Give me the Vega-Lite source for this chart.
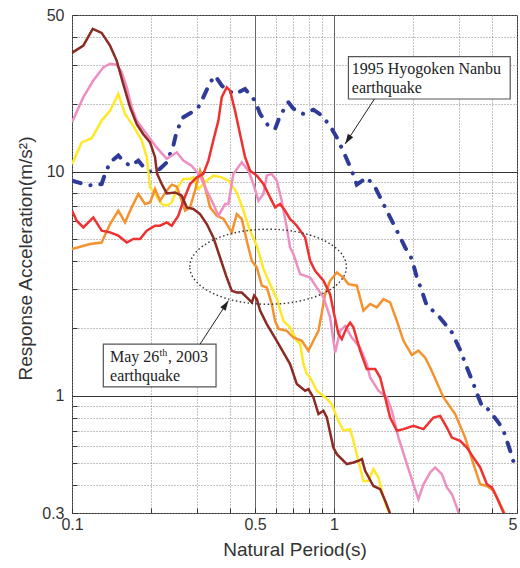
{
  "$schema": "https://vega.github.io/schema/vega-lite/v6.json",
  "width": 445,
  "height": 498,
  "autosize": "none",
  "padding": {"left": 72, "top": 15, "right": 3, "bottom": 55},
  "background": "white",
  "config": {
    "view": {"stroke": "#333", "strokeWidth": 1},
    "axis": {
      "labelFont": "Liberation Sans",
      "titleFont": "Liberation Sans",
      "labelFontSize": 16,
      "titleFontSize": 19,
      "titleFontWeight": "normal",
      "labelColor": "#333",
      "titleColor": "#333",
      "ticks": true,
      "tickSize": -5,
      "tickColor": "#333",
      "domain": false,
      "labelOverlap": false,
      "labelFlush": false,
      "gridWidth": 1
    }
  },
  "datasets": {
    "curves": [
      {"s":"Y","x":0.1,"y":10.8},{"s":"Y","x":0.1089,"y":13.5},{"s":"Y","x":0.1189,"y":14.1},{"s":"Y","x":0.1298,"y":16.9},{"s":"Y","x":0.1397,"y":18.7},{"s":"Y","x":0.1503,"y":22.2},{"s":"Y","x":0.1594,"y":18.1},{"s":"Y","x":0.1714,"y":16.0},{"s":"Y","x":0.1846,"y":13.8},{"s":"Y","x":0.1929,"y":11.6},{"s":"Y","x":0.1986,"y":8.51},{"s":"Y","x":0.2075,"y":7.95},{"s":"Y","x":0.2201,"y":7.17},{"s":"Y","x":0.23,"y":7.05},{"s":"Y","x":0.2403,"y":7.29},{"s":"Y","x":0.2512,"y":8.37},{"s":"Y","x":0.2662,"y":9.28},{"s":"Y","x":0.2823,"y":9.28},{"s":"Y","x":0.2906,"y":9.43},{"s":"Y","x":0.3038,"y":8.37},{"s":"Y","x":0.327,"y":9.12},{"s":"Y","x":0.3465,"y":9.6},{"s":"Y","x":0.3731,"y":9.43},{"s":"Y","x":0.3954,"y":9.12},{"s":"Y","x":0.4257,"y":8.08},{"s":"Y","x":0.4512,"y":6.7},{"s":"Y","x":0.4786,"y":5.45},{"s":"Y","x":0.5077,"y":4.67},{"s":"Y","x":0.538,"y":3.69},{"s":"Y","x":0.5704,"y":3.15},{"s":"Y","x":0.605,"y":2.71},{"s":"Y","x":0.6413,"y":2.16},{"s":"Y","x":0.68,"y":2.02},{"s":"Y","x":0.7217,"y":1.76},{"s":"Y","x":0.743,"y":1.7},{"s":"Y","x":0.765,"y":1.385},{"s":"Y","x":0.788,"y":1.25},{"s":"Y","x":0.8115,"y":1.207},{"s":"Y","x":0.8604,"y":1.053},{"s":"Y","x":0.9255,"y":0.983},{"s":"Y","x":0.982,"y":0.918},{"s":"Y","x":1.026,"y":0.8},{"s":"Y","x":1.087,"y":0.698},{"s":"Y","x":1.153,"y":0.71},{"s":"Y","x":1.187,"y":0.63},{"s":"Y","x":1.259,"y":0.479},{"s":"Y","x":1.296,"y":0.417},{"s":"Y","x":1.355,"y":0.417},{"s":"Y","x":1.415,"y":0.471},{"s":"Y","x":1.479,"y":0.432},{"s":"Y","x":1.546,"y":0.352},{"s":"Y","x":1.593,"y":0.317},{"s":"Y","x":1.629,"y":0.301},{"s":"Y","x":1.66,"y":0.28},
      {"s":"O","x":0.1,"y":4.52},{"s":"O","x":0.1172,"y":4.76},{"s":"O","x":0.1298,"y":4.83},{"s":"O","x":0.1397,"y":5.84},{"s":"O","x":0.1503,"y":6.7},{"s":"O","x":0.1594,"y":5.94},{"s":"O","x":0.169,"y":6.93},{"s":"O","x":0.1792,"y":7.95},{"s":"O","x":0.19,"y":7.17},{"s":"O","x":0.1986,"y":7.29},{"s":"O","x":0.2075,"y":8.37},{"s":"O","x":0.2168,"y":7.42},{"s":"O","x":0.23,"y":8.23},{"s":"O","x":0.2403,"y":8.75},{"s":"O","x":0.2512,"y":8.57},{"s":"O","x":0.2624,"y":7.42},{"s":"O","x":0.2702,"y":6.7},{"s":"O","x":0.2823,"y":6.93},{"s":"O","x":0.295,"y":8.23},{"s":"O","x":0.3083,"y":10.1},{"s":"O","x":0.3174,"y":9.12},{"s":"O","x":0.327,"y":7.95},{"s":"O","x":0.3367,"y":6.93},{"s":"O","x":0.357,"y":6.36},{"s":"O","x":0.3784,"y":6.17},{"s":"O","x":0.4074,"y":5.36},{"s":"O","x":0.4257,"y":6.47},{"s":"O","x":0.4448,"y":6.15},{"s":"O","x":0.4648,"y":4.92},{"s":"O","x":0.4859,"y":4.0},{"s":"O","x":0.5077,"y":3.74},{"s":"O","x":0.5305,"y":3.1},{"s":"O","x":0.5542,"y":3.04},{"s":"O","x":0.579,"y":2.57},{"s":"O","x":0.5963,"y":2.16},{"s":"O","x":0.614,"y":1.99},{"s":"O","x":0.6607,"y":1.95},{"s":"O","x":0.7003,"y":1.82},{"s":"O","x":0.7541,"y":1.76},{"s":"O","x":0.799,"y":1.59},{"s":"O","x":0.835,"y":1.76},{"s":"O","x":0.873,"y":1.95},{"s":"O","x":0.8991,"y":2.35},{"s":"O","x":0.9255,"y":2.84},{"s":"O","x":0.967,"y":3.26},{"s":"O","x":1.026,"y":3.55},{"s":"O","x":1.087,"y":3.37},{"s":"O","x":1.136,"y":3.15},{"s":"O","x":1.223,"y":3.1},{"s":"O","x":1.296,"y":2.4},{"s":"O","x":1.375,"y":2.57},{"s":"O","x":1.458,"y":2.48},{"s":"O","x":1.546,"y":2.7},{"s":"O","x":1.639,"y":2.61},{"s":"O","x":1.739,"y":2.16},{"s":"O","x":1.843,"y":1.76},{"s":"O","x":1.984,"y":1.52},{"s":"O","x":2.102,"y":1.59},{"s":"O","x":2.23,"y":1.48},{"s":"O","x":2.331,"y":1.338},{"s":"O","x":2.62,"y":0.983},{"s":"O","x":2.903,"y":0.829},{"s":"O","x":3.17,"y":0.651},{"s":"O","x":3.411,"y":0.496},{"s":"O","x":3.618,"y":0.403},{"s":"O","x":3.837,"y":0.396},{"s":"O","x":4.07,"y":0.377},{"s":"O","x":4.31,"y":0.328},{"s":"O","x":4.47,"y":0.301},{"s":"O","x":4.6,"y":0.28},
      {"s":"P","x":0.1,"y":16.6},{"s":"P","x":0.1105,"y":21.5},{"s":"P","x":0.1206,"y":25.5},{"s":"P","x":0.1317,"y":29.2},{"s":"P","x":0.1397,"y":30.3},{"s":"P","x":0.1481,"y":30.0},{"s":"P","x":0.1548,"y":27.8},{"s":"P","x":0.1618,"y":23.8},{"s":"P","x":0.169,"y":19.4},{"s":"P","x":0.1767,"y":16.9},{"s":"P","x":0.1929,"y":14.7},{"s":"P","x":0.2107,"y":12.8},{"s":"P","x":0.23,"y":11.4},{"s":"P","x":0.2512,"y":12.2},{"s":"P","x":0.2662,"y":11.2},{"s":"P","x":0.2866,"y":10.6},{"s":"P","x":0.3083,"y":9.6},{"s":"P","x":0.327,"y":8.23},{"s":"P","x":0.3465,"y":7.17},{"s":"P","x":0.3622,"y":6.36},{"s":"P","x":0.3841,"y":7.17},{"s":"P","x":0.3954,"y":7.17},{"s":"P","x":0.4131,"y":9.77},{"s":"P","x":0.4448,"y":11.0},{"s":"P","x":0.4714,"y":10.1},{"s":"P","x":0.4926,"y":8.81},{"s":"P","x":0.5149,"y":7.42},{"s":"P","x":0.538,"y":7.95},{"s":"P","x":0.5542,"y":9.6},{"s":"P","x":0.579,"y":9.77},{"s":"P","x":0.605,"y":9.12},{"s":"P","x":0.632,"y":7.42},{"s":"P","x":0.6607,"y":5.64},{"s":"P","x":0.68,"y":4.59},{"s":"P","x":0.7003,"y":4.29},{"s":"P","x":0.743,"y":3.49},{"s":"P","x":0.8115,"y":3.37},{"s":"P","x":0.8604,"y":3.04},{"s":"P","x":0.912,"y":2.75},{"s":"P","x":0.967,"y":2.24},{"s":"P","x":1.011,"y":1.56},{"s":"P","x":1.056,"y":1.95},{"s":"P","x":1.104,"y":2.05},{"s":"P","x":1.17,"y":1.82},{"s":"P","x":1.259,"y":1.64},{"s":"P","x":1.335,"y":1.385},{"s":"P","x":1.375,"y":1.207},{"s":"P","x":1.479,"y":1.053},{"s":"P","x":1.593,"y":0.983},{"s":"P","x":1.664,"y":0.857},{"s":"P","x":1.764,"y":0.651},{"s":"P","x":1.899,"y":0.496},{"s":"P","x":2.012,"y":0.403},{"s":"P","x":2.102,"y":0.346},{"s":"P","x":2.198,"y":0.403},{"s":"P","x":2.331,"y":0.455},{"s":"P","x":2.435,"y":0.479},{"s":"P","x":2.583,"y":0.447},{"s":"P","x":2.699,"y":0.39},{"s":"P","x":2.82,"y":0.364},{"s":"P","x":2.948,"y":0.317},{"s":"P","x":2.99,"y":0.301},{"s":"P","x":3.05,"y":0.28},
      {"s":"R","x":0.1,"y":6.7},{"s":"R","x":0.1042,"y":6.04},{"s":"R","x":0.1105,"y":5.64},{"s":"R","x":0.1206,"y":6.25},{"s":"R","x":0.1298,"y":5.45},{"s":"R","x":0.1397,"y":5.36},{"s":"R","x":0.1503,"y":5.18},{"s":"R","x":0.1618,"y":4.83},{"s":"R","x":0.1714,"y":5.01},{"s":"R","x":0.1818,"y":5.01},{"s":"R","x":0.1929,"y":5.45},{"s":"R","x":0.2075,"y":5.74},{"s":"R","x":0.2168,"y":5.74},{"s":"R","x":0.23,"y":5.94},{"s":"R","x":0.2403,"y":5.74},{"s":"R","x":0.2547,"y":6.36},{"s":"R","x":0.2662,"y":7.42},{"s":"R","x":0.2823,"y":8.81},{"s":"R","x":0.2995,"y":9.43},{"s":"R","x":0.3174,"y":9.77},{"s":"R","x":0.3317,"y":11.2},{"s":"R","x":0.3465,"y":13.8},{"s":"R","x":0.3622,"y":16.9},{"s":"R","x":0.3731,"y":21.5},{"s":"R","x":0.3898,"y":23.8},{"s":"R","x":0.4013,"y":23.0},{"s":"R","x":0.4193,"y":18.7},{"s":"R","x":0.4382,"y":14.7},{"s":"R","x":0.4579,"y":11.6},{"s":"R","x":0.4786,"y":10.1},{"s":"R","x":0.5077,"y":9.6},{"s":"R","x":0.538,"y":8.81},{"s":"R","x":0.5704,"y":7.68},{"s":"R","x":0.5963,"y":6.93},{"s":"R","x":0.6231,"y":7.17},{"s":"R","x":0.6512,"y":6.7},{"s":"R","x":0.68,"y":6.15},{"s":"R","x":0.7217,"y":5.74},{"s":"R","x":0.7762,"y":5.09},{"s":"R","x":0.8115,"y":4.0},{"s":"R","x":0.8476,"y":3.61},{"s":"R","x":0.912,"y":3.26},{"s":"R","x":0.967,"y":2.84},{"s":"R","x":0.995,"y":2.4},{"s":"R","x":1.04,"y":1.89},{"s":"R","x":1.072,"y":1.79},{"s":"R","x":1.12,"y":2.02},{"s":"R","x":1.153,"y":2.12},{"s":"R","x":1.187,"y":2.02},{"s":"R","x":1.259,"y":1.59},{"s":"R","x":1.335,"y":1.316},{"s":"R","x":1.437,"y":1.316},{"s":"R","x":1.502,"y":1.207},{"s":"R","x":1.569,"y":0.983},{"s":"R","x":1.639,"y":0.8},{"s":"R","x":1.739,"y":0.698},{"s":"R","x":1.843,"y":0.71},{"s":"R","x":2.012,"y":0.735},{"s":"R","x":2.198,"y":0.71},{"s":"R","x":2.399,"y":0.8},{"s":"R","x":2.545,"y":0.814},{"s":"R","x":2.699,"y":0.722},{"s":"R","x":2.82,"y":0.651},{"s":"R","x":3.034,"y":0.63},{"s":"R","x":3.218,"y":0.588},{"s":"R","x":3.411,"y":0.53},{"s":"R","x":3.618,"y":0.479},{"s":"R","x":3.837,"y":0.403},{"s":"R","x":4.01,"y":0.39},{"s":"R","x":4.19,"y":0.352},{"s":"R","x":4.44,"y":0.301},{"s":"R","x":4.6,"y":0.28},
      {"s":"B","x":0.1,"y":33.9},{"s":"B","x":0.1105,"y":36.5},{"s":"B","x":0.12,"y":43.4},{"s":"B","x":0.1298,"y":41.6},{"s":"B","x":0.1397,"y":36.5},{"s":"B","x":0.1481,"y":31.3},{"s":"B","x":0.157,"y":24.6},{"s":"B","x":0.1665,"y":19.4},{"s":"B","x":0.1767,"y":16.3},{"s":"B","x":0.1872,"y":14.7},{"s":"B","x":0.1986,"y":13.5},{"s":"B","x":0.2075,"y":11.6},{"s":"B","x":0.2112,"y":9.8},{"s":"B","x":0.2201,"y":8.81},{"s":"B","x":0.23,"y":8.0},{"s":"B","x":0.2474,"y":8.08},{"s":"B","x":0.2624,"y":7.81},{"s":"B","x":0.2742,"y":6.93},{"s":"B","x":0.2906,"y":6.82},{"s":"B","x":0.3083,"y":6.47},{"s":"B","x":0.327,"y":5.84},{"s":"B","x":0.3465,"y":5.09},{"s":"B","x":0.3675,"y":4.14},{"s":"B","x":0.3898,"y":3.37},{"s":"B","x":0.4074,"y":2.94},{"s":"B","x":0.4257,"y":2.89},{"s":"B","x":0.4448,"y":2.89},{"s":"B","x":0.4648,"y":2.75},{"s":"B","x":0.4859,"y":2.61},{"s":"B","x":0.4958,"y":2.8},{"s":"B","x":0.5077,"y":2.7},{"s":"B","x":0.5226,"y":2.4},{"s":"B","x":0.5542,"y":2.09},{"s":"B","x":0.605,"y":1.76},{"s":"B","x":0.68,"y":1.385},{"s":"B","x":0.7217,"y":1.128},{"s":"B","x":0.7762,"y":1.053},{"s":"B","x":0.799,"y":1.071},{"s":"B","x":0.835,"y":0.983},{"s":"B","x":0.873,"y":0.829},{"s":"B","x":0.912,"y":0.857},{"s":"B","x":0.9396,"y":0.8},{"s":"B","x":0.995,"y":0.588},{"s":"B","x":1.026,"y":0.549},{"s":"B","x":1.12,"y":0.496},{"s":"B","x":1.187,"y":0.504},{"s":"B","x":1.241,"y":0.513},{"s":"B","x":1.279,"y":0.522},{"s":"B","x":1.316,"y":0.463},{"s":"B","x":1.415,"y":0.396},{"s":"B","x":1.502,"y":0.383},{"s":"B","x":1.569,"y":0.34},{"s":"B","x":1.639,"y":0.298},{"s":"B","x":1.7,"y":0.27}
    ],
    "hyogo": [
      {"x":0.1,"y":9.12},{"x":0.1105,"y":8.81},{"x":0.1206,"y":8.66},{"x":0.1298,"y":8.81},{"x":0.1337,"y":9.77},{"x":0.1397,"y":11.0},{"x":0.1503,"y":11.8},{"x":0.157,"y":11.2},{"x":0.1665,"y":10.6},{"x":0.1792,"y":11.2},{"x":0.19,"y":10.3},{"x":0.2016,"y":9.93},{"x":0.2168,"y":10.3},{"x":0.23,"y":11.0},{"x":0.2438,"y":13.1},{"x":0.2512,"y":15.2},{"x":0.2662,"y":17.5},{"x":0.2866,"y":18.4},{"x":0.3038,"y":19.4},{"x":0.3174,"y":21.5},{"x":0.3367,"y":25.0},{"x":0.3518,"y":26.8},{"x":0.3731,"y":24.2},{"x":0.3954,"y":23.0},{"x":0.4193,"y":22.2},{"x":0.4579,"y":23.4},{"x":0.5,"y":20.7},{"x":0.5226,"y":18.1},{"x":0.5619,"y":16.0},{"x":0.5963,"y":15.5},{"x":0.6231,"y":17.8},{"x":0.67,"y":20.4},{"x":0.7003,"y":19.1},{"x":0.765,"y":18.1},{"x":0.835,"y":18.9},{"x":0.8991,"y":17.8},{"x":0.967,"y":16.0},{"x":1.026,"y":14.2},{"x":1.104,"y":11.8},{"x":1.17,"y":10.1},{"x":1.223,"y":8.75},{"x":1.335,"y":9.43},{"x":1.437,"y":8.51},{"x":1.546,"y":7.17},{"x":1.639,"y":6.25},{"x":1.739,"y":5.45},{"x":1.871,"y":4.59},{"x":1.984,"y":4.08},{"x":2.073,"y":3.37},{"x":2.167,"y":2.94},{"x":2.263,"y":2.52},{"x":2.472,"y":2.32},{"x":2.659,"y":2.09},{"x":2.82,"y":1.92},{"x":3.034,"y":1.6},{"x":3.218,"y":1.338},{"x":3.411,"y":1.128},{"x":3.564,"y":0.983},{"x":3.673,"y":0.902},{"x":3.781,"y":0.902},{"x":4.01,"y":0.829},{"x":4.25,"y":0.76},{"x":4.44,"y":0.698},{"x":4.71,"y":0.568},{"x":4.92,"y":0.479}
    ]
  },
  "encoding": {
    "x": {
      "field": "x",
      "type": "quantitative",
      "scale": {"type": "log", "domain": [0.1, 5], "nice": false, "zero": false},
      "axis": {
        "title": "Natural Period(s)",
        "values": [0.1,0.2,0.3,0.4,0.5,0.6,0.7,0.8,0.9,1,2,3,4,5],
        "format": "~g",
        "labelExpr": "indexof([0.1,0.5,1,5], datum.value) >= 0 ? datum.label : ''",
        "labelAlign": {"condition": {"test": "datum.value == 5", "value": "right"}, "value": "center"},
        "labelPadding": 8,
        "titlePadding": 8,
        "grid": true,
        "gridDash": {"condition": {"test": "datum.value == 0.5 || datum.value == 1", "value": []}, "value": [1, 2]},
        "gridColor": {"condition": {"test": "datum.value == 0.5 || datum.value == 1", "value": "#666"}, "value": "#888"}
      }
    },
    "y": {
      "field": "y",
      "type": "quantitative",
      "scale": {"type": "log", "domain": [0.3, 50], "nice": false, "zero": false},
      "axis": {
        "title": "Response Acceleration(m/s²)",
        "values": [0.3,0.4,0.5,0.6,0.7,0.8,0.9,1,2,3,4,5,6,7,8,9,10,20,30,40,50],
        "format": "~g",
        "labelExpr": "indexof([0.3,1,10,50], datum.value) >= 0 ? datum.label : ''",
        "labelPadding": 13,
        "titlePadding": 6,
        "titleY": 243,
        "grid": true,
        "gridDash": {"condition": {"test": "datum.value == 1 || datum.value == 10", "value": []}, "value": [1, 2]},
        "gridColor": {"condition": {"test": "datum.value == 1 || datum.value == 10", "value": "#333"}, "value": "#888"}
      }
    }
  },
  "layer": [
    {
      "data": {"name": "hyogo"},
      "mark": {"type": "line", "clip": true, "stroke": "#2f3b98", "strokeWidth": 4, "strokeDash": [9, 10, 0.1, 10], "strokeCap": "round"},
      "encoding": {}
    },
    {
      "data": {"name": "curves"},
      "mark": {"type": "line", "clip": true, "strokeWidth": 2.5},
      "encoding": {
        "color": {
          "field": "s",
          "type": "nominal",
          "scale": {"domain": ["Y", "O", "P", "R", "B"], "range": ["#ffe82a", "#f5922f", "#ee8fc1", "#ee3131", "#8c2b23"]},
          "legend": null
        }
      }
    },
    {
      "data": {"values": [{"x": 0.5606, "y": 3.766}]},
      "mark": {"type": "point", "shape": "M -1 0 C -1 -0.264 -0.552 -0.479 0 -0.479 C 0.552 -0.479 1 -0.264 1 0 C 1 0.264 0.552 0.479 0 0.479 C -0.552 0.479 -1 0.264 -1 0 Z", "size": 24524, "filled": false, "stroke": "#333", "strokeWidth": 1.4, "strokeDash": [1.5, 2.5], "opacity": 1}
    },
    {
      "data": {"values": [{"x": 1.136, "x2": 4.71, "y": 32.6, "y2": 21.1}, {"x": 0.1317, "x2": 0.3548, "y": 1.7, "y2": 1.097}]},
      "mark": {"type": "rect", "fill": "white", "stroke": "#555", "strokeWidth": 1.2},
      "encoding": {"x2": {"field": "x2"}, "y2": {"field": "y2"}}
    },
    {
      "data": {"values": [
        {"x": 1.17, "y": 28.8, "t": "1995 Hyogoken Nanbu"},
        {"x": 1.17, "y": 23.5, "t": "earthquake"},
        {"x": 0.1397, "y": 1.483, "t": "May 26"},
        {"x": 0.2326, "y": 1.483, "t": ", 2003"},
        {"x": 0.1397, "y": 1.228, "t": "earthquake"}
      ]},
      "mark": {"type": "text", "align": "left", "baseline": "middle", "font": "Liberation Serif", "fontSize": 16, "color": "#222"},
      "encoding": {"text": {"field": "t"}}
    },
    {
      "data": {"values": [{"x": 0.2159, "y": 1.556, "t": "th"}]},
      "mark": {"type": "text", "align": "left", "baseline": "middle", "font": "Liberation Serif", "fontSize": 10, "color": "#222"},
      "encoding": {"text": {"field": "t"}}
    },
    {
      "data": {"values": [
        {"a": "1", "x": 1.428, "y": 21.1}, {"a": "1", "x": 1.104, "y": 13.3},
        {"a": "2", "x": 0.3083, "y": 1.7}, {"a": "2", "x": 0.3954, "y": 2.656}
      ]},
      "mark": {"type": "line", "stroke": "#222", "strokeWidth": 1},
      "encoding": {"detail": {"field": "a", "type": "nominal"}}
    },
    {
      "data": {"values": [{"x": 1.104, "y": 13.3}]},
      "mark": {"type": "point", "shape": "M 0 0 L -0.45 1.4 L 0.45 1.4 Z", "size": 200, "filled": true, "color": "#222", "opacity": 1, "angle": 213}
    },
    {
      "data": {"values": [{"x": 0.3954, "y": 2.656}]},
      "mark": {"type": "point", "shape": "M 0 0 L -0.45 1.4 L 0.45 1.4 Z", "size": 200, "filled": true, "color": "#222", "opacity": 1, "angle": 33}
    }
  ]
}
